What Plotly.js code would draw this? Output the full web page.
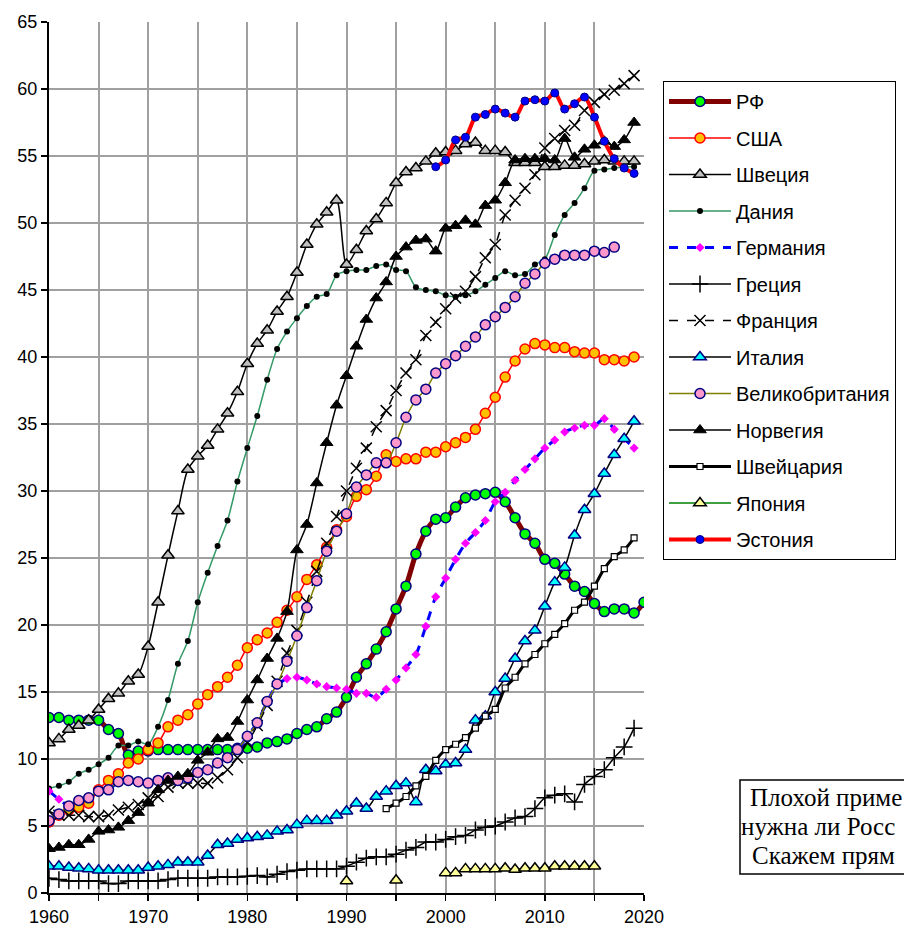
<!DOCTYPE html>
<html>
<head>
<meta charset="utf-8">
<script src="https://cdn.plot.ly/plotly-3.0.1.min.js"></script>
<style>
html,body{margin:0;padding:0;background:#fff;}
#chart{width:904px;height:931px;}
</style>
</head>
<body>
<div id="chart"></div>
<script>
// Series names (legend order)
const seriesNames = ['РФ','США','Швеция','Дания','Германия','Греция','Франция','Италия','Великобритания','Норвегия','Швейцария','Япония','Эстония'];

// x-axis ticks
const tickYears = [1960,1965,1970,1975,1980,1985,1990,1995,2000,2005,2010,2015,2020];
const tickLabels = ['1960','','1970','','1980','','1990','','2000','','2010','','2020'];

// Values (start year + yearly values)
const russiaStart = 1960;
const russia = [13.1,13.1,12.9,12.9,12.9,12.9,12.2,11.9,10.3,10.6,
  10.6,10.7,10.7,10.7,10.7,10.7,10.7,10.7,10.7,10.8,
  10.8,10.9,11.2,11.3,11.5,11.9,12.2,12.4,13.0,13.5,
  14.6,16.1,17.1,18.2,19.5,21.2,22.9,25.3,27.0,27.9,
  28.0,28.8,29.5,29.7,29.8,29.9,29.2,28.0,26.8,26.1,
  24.9,24.6,23.8,22.9,22.5,21.6,21.0,21.2,21.2,20.9,
  21.7];

const usaStart = 1960;
const usa = [5.3,5.8,6.2,6.4,6.7,7.7,8.4,8.9,9.7,10.0,
  10.7,11.2,12.4,12.9,13.3,14.1,14.8,15.4,16.1,17.0,
  18.3,18.9,19.4,20.2,21.1,22.1,23.4,24.5,25.8,27.1,
  28.1,29.6,30.1,31.1,32.7,32.2,32.4,32.4,32.9,32.9,
  33.3,33.6,34.0,34.6,35.8,37.0,38.5,39.7,40.6,41.0,
  40.9,40.7,40.7,40.4,40.3,40.3,39.8,39.8,39.7,40.0];

const swedenStart = 1960;
const sweden = [11.2,11.5,12.2,12.5,12.9,13.7,14.5,14.9,15.8,16.3,
  18.4,21.7,25.2,28.5,31.6,32.6,33.4,34.6,35.8,37.4,
  39.5,41.0,42.0,43.4,44.5,46.3,48.4,49.9,50.8,51.7,
  46.9,48.0,49.4,50.3,51.5,53.0,53.8,54.1,54.6,55.2,
  55.3,55.4,55.9,56.0,55.4,55.4,55.3,54.5,54.5,54.5,
  54.2,54.2,54.3,54.3,54.4,54.6,54.7,54.6,54.6,54.6];

const denmarkStart = 1960;
const denmark = [7.8,8.0,8.3,8.9,9.2,9.6,10.1,11.0,11.0,11.3,
  11.1,12.4,14.4,17.1,18.8,21.7,23.9,25.9,27.8,30.7,
  33.2,35.6,38.3,40.6,41.9,42.9,43.8,44.5,44.7,46.1,
  46.4,46.5,46.5,46.8,46.9,46.5,46.4,45.2,45.0,44.9,
  44.6,44.5,44.6,44.9,45.4,45.9,46.4,46.1,46.2,46.9,
  47.3,49.1,50.6,51.5,52.6,53.9,54.0,54.1,54.2,54.2];

const germanyStart = 1960;
const germany = [7.6,7.0,6.5,6.9,7.1,7.6,7.7,8.3,8.4,8.3,
  8.2,8.4,8.6,8.4,8.6,9.0,9.2,9.7,10.1,10.7,
  11.7,12.7,14.3,15.5,16.0,16.1,15.9,15.6,15.4,15.3,
  15.2,14.9,14.9,14.6,15.2,15.9,16.8,17.8,19.9,22.1,
  23.5,24.9,26.1,26.9,27.8,29.2,29.9,30.8,31.6,32.4,
  33.2,33.8,34.4,34.7,34.9,34.9,35.4,34.6,33.9,33.2];

const greeceStart = 1960;
const greece = [1.1,1.0,0.9,0.9,0.9,0.9,0.7,0.7,0.9,0.9,
  0.9,0.9,1.0,1.1,1.1,1.1,1.1,1.2,1.2,1.2,
  1.25,1.3,1.2,1.4,1.6,1.7,1.8,1.8,1.8,1.8,
  2.0,2.3,2.6,2.7,2.7,2.9,3.2,3.4,3.8,3.8,
  4.0,4.2,4.3,4.7,4.9,5.0,5.3,5.6,5.7,6.3,
  7.1,7.3,7.4,6.8,8.1,8.7,9.2,10.1,10.9,12.3];

const franceStart = 1960;
const france = [6.1,5.8,5.8,5.8,5.7,5.7,5.8,6.2,6.4,6.6,
  7.1,7.2,7.9,8.2,8.2,8.2,8.2,8.6,9.2,10.1,
  11.2,12.5,14.0,15.8,17.9,19.6,21.7,24.0,26.1,28.1,
  30.0,31.7,33.2,34.8,36.0,37.5,38.8,39.8,41.6,42.6,
  43.6,44.4,44.9,46.0,47.4,48.4,50.6,51.7,52.6,53.6,
  55.6,56.3,56.9,57.3,58.4,59.0,59.6,59.9,60.4,61.0];

const italyStart = 1960;
const italy = [2.0,2.0,1.9,1.85,1.8,1.7,1.7,1.7,1.7,1.7,
  1.9,2.0,2.1,2.3,2.3,2.3,2.8,3.6,3.7,4.0,
  4.1,4.2,4.3,4.6,4.7,5.1,5.4,5.4,5.4,5.8,
  6.1,6.7,6.3,7.2,7.6,8.0,8.2,6.8,9.2,9.1,
  9.6,9.7,10.7,12.9,13.2,15.0,16.0,17.5,18.8,19.6,
  21.4,23.2,24.3,26.7,28.6,29.8,31.3,32.7,33.9,35.2];

const ukStart = 1960;
const uk = [5.4,5.9,6.5,6.9,7.1,7.6,7.7,8.3,8.4,8.3,
  8.2,8.4,8.6,8.4,8.6,9.0,9.2,9.7,10.1,10.7,
  11.7,12.7,14.3,15.6,17.3,19.2,21.3,23.3,25.5,27.0,
  28.3,30.3,31.2,32.1,32.1,33.6,35.5,36.8,37.6,38.8,
  39.5,40.1,40.8,41.5,42.4,43.0,43.7,44.5,45.5,46.2,
  47.0,47.3,47.6,47.6,47.6,47.9,47.8,48.2];

const norwayStart = 1960;
const norway = [3.3,3.4,3.6,3.6,4.0,4.6,4.7,4.9,5.4,6.0,
  6.7,7.7,8.4,8.7,8.9,9.9,10.5,11.5,11.6,12.8,
  14.4,15.9,17.5,19.0,21.0,25.6,27.5,30.6,33.6,36.4,
  38.6,40.8,42.8,44.4,45.6,47.5,48.2,48.7,48.8,47.9,
  49.6,49.8,50.2,49.9,51.3,51.7,53.0,54.7,54.8,54.8,
  54.8,54.7,56.3,54.9,55.5,55.8,56.1,55.7,56.2,57.5];

const swissStart = 1994;
const swiss = [6.3,6.7,7.2,8.0,8.7,9.9,10.7,11.1,11.6,12.3,
  13.2,13.7,15.3,16.1,17.1,17.8,18.6,19.3,20.1,21.1,
  21.7,22.9,24.2,25.1,25.6,26.5];

const japanStart = 1990;
const japan = [0.9,null,null,null,null,0.95,null,null,null,null,
  1.5,1.5,1.8,1.8,1.8,1.8,1.85,1.75,1.85,1.85,
  1.85,2.0,2.0,2.0,2.0,2.0];

const estoniaStart = 1999;
const estonia = [54.2,54.7,56.2,56.4,57.9,58.1,58.5,58.2,57.9,59.1,
  59.2,59.1,59.7,58.5,58.9,59.4,57.9,56.1,54.8,54.1,53.7];

// Note box text (visible part)
const noteLines = ['Плохой приме', 'нужна ли Росс', 'Скажем прям'];

function yearsFrom(start, arr){ return arr.map((_, i) => start + i); }

const styles = [
  {line:{color:'#800000',width:5}, marker:{symbol:'circle',size:10,color:'#00FF00',line:{color:'#000080',width:1.5}}},
  {line:{color:'#FF0000',width:1.5}, marker:{symbol:'circle',size:10,color:'#FFC000',line:{color:'#FF0000',width:1.5}}},
  {line:{color:'#000000',width:1.5}, marker:{symbol:'triangle-up',size:11,color:'#C0C0C0',line:{color:'#000000',width:1.5}}},
  {line:{color:'#339966',width:1.5}, marker:{symbol:'circle',size:6,color:'#000000',line:{color:'#000000',width:0}}},
  {line:{color:'#0000FF',width:3,dash:'dash'}, marker:{symbol:'diamond',size:7,color:'#FF00FF',line:{color:'#FF00FF',width:0}}},
  {line:{color:'#000000',width:1.5}, marker:{symbol:'cross-thin',size:12,color:'#000000',line:{color:'#000000',width:1.5}}},
  {line:{color:'#000000',width:1.5,dash:'dash'}, marker:{symbol:'x-thin',size:11,color:'#000000',line:{color:'#000000',width:1.5}}},
  {line:{color:'#000000',width:1.5}, marker:{symbol:'triangle-up',size:11,color:'#00FFFF',line:{color:'#000080',width:1.5}}},
  {line:{color:'#808000',width:1.5}, marker:{symbol:'circle',size:10,color:'#FF99CC',line:{color:'#000080',width:1.5}}},
  {line:{color:'#000000',width:1.5}, marker:{symbol:'triangle-up',size:11,color:'#000000',line:{color:'#000000',width:1}}},
  {line:{color:'#000000',width:3}, marker:{symbol:'square',size:6,color:'#FFFFFF',line:{color:'#000000',width:1.2}}},
  {line:{color:'#008000',width:1.5}, marker:{symbol:'triangle-up',size:11,color:'#FFFF99',line:{color:'#000000',width:1.5}}},
  {line:{color:'#FF0000',width:4}, marker:{symbol:'circle',size:8,color:'#0000FF',line:{color:'#000080',width:1}}}
];

const seriesData = [
  [russiaStart,russia],[usaStart,usa],[swedenStart,sweden],[denmarkStart,denmark],
  [germanyStart,germany],[greeceStart,greece],[franceStart,france],[italyStart,italy],
  [ukStart,uk],[norwayStart,norway],[swissStart,swiss],[japanStart,japan],[estoniaStart,estonia]
];

const traces = seriesData.map((d, i) => ({
  type:'scatter', mode:'lines+markers',
  name: seriesNames[i], legendgroup:'g'+i,
  x: yearsFrom(d[0], d[1]), y: d[1],
  connectgaps:false,
  line: Object.assign({shape:'spline', smoothing:0.8}, styles[i].line),
  marker: styles[i].marker,
  hoverinfo:'x+y+name'
}));

const L = 49, R = 260, T = 22, B = 38;
const W = 904, H = 931;
const pw = W - L - R, ph = H - T - B;
function px2x(px){ return (px - L) / pw; }
function py2y(py){ return (H - B - py) / ph; }

const annotations = noteLines.map((txt, i) => ({
  xref:'paper', yref:'paper',
  x: px2x([748, 739, 750][i]), y: py2y([797, 826, 855][i]),
  xanchor:'left', yanchor:'middle', showarrow:false,
  text: txt,
  font:{family:'Liberation Serif, Times New Roman, serif', size:25, color:'#000'}
}));

const layout = {
  width: W, height: H,
  margin:{l:L, r:R, t:T, b:B, autoexpand:false},
  paper_bgcolor:'#fff', plot_bgcolor:'#fff',
  font:{family:'Liberation Sans, Arial, sans-serif', color:'#000'},
  showlegend:true,
  legend:{
    x: px2x(663), y: py2y(81), xanchor:'left', yanchor:'top',
    bgcolor:'#fff', bordercolor:'#000', borderwidth:1,
    font:{size:20, family:'Liberation Sans, Arial, sans-serif'},
    traceorder:'grouped', tracegroupgap:7.5, itemwidth:62,
    itemclick:false
  },
  xaxis:{
    range:[1960,2020], tickmode:'array', tickvals:tickYears, ticktext:tickLabels,
    showgrid:true, gridcolor:'#a0a0a0', gridwidth:2,
    showline:true, linecolor:'#000', linewidth:2, mirror:false,
    ticks:'outside', ticklen:6, tickwidth:1.5, tickcolor:'#000',
    zeroline:false, tickfont:{size:18}
  },
  yaxis:{
    range:[0,65], tickmode:'linear', tick0:0, dtick:5,
    showgrid:true, gridcolor:'#a0a0a0', gridwidth:2,
    showline:true, linecolor:'#000', linewidth:2,
    ticks:'outside', ticklen:6, tickwidth:1.5, tickcolor:'#000',
    zeroline:false, tickfont:{size:18}
  },
  shapes:[{
    type:'rect', xref:'paper', yref:'paper', layer:'above',
    x0: px2x(740), x1: px2x(1000), y0: py2y(874), y1: py2y(780),
    line:{color:'#000', width:1.5}, fillcolor:'#fff'
  }],
  annotations: annotations
};

Plotly.newPlot('chart', traces, layout, {staticPlot:true, displayModeBar:false});
</script>
</body>
</html>
